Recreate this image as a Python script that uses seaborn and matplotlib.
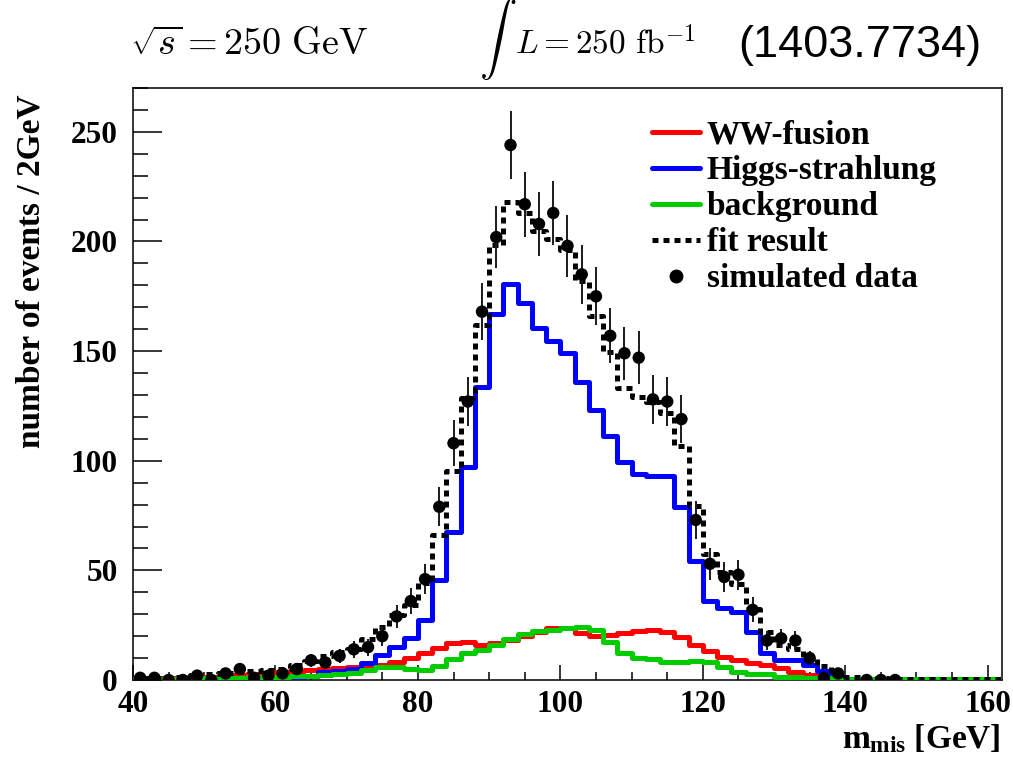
import numpy as np
import pandas as pd
import matplotlib
matplotlib.use("Agg")
import matplotlib.pyplot as plt
import seaborn as sns
from matplotlib.lines import Line2D
from matplotlib.ticker import MultipleLocator

# ---------------- data (2 GeV bins, 40 .. 162 GeV) ----------------
bin_edges = list(range(40, 164, 2))
bin_centers = [e + 1 for e in bin_edges[:-1]]

higgs_strahlung = [0, 0, 0, 0, 0, 0, 0, 0, 0, 0, 0.2, 1.0, 2.0, 3.8, 4.3, 4.8, 7.6, 11.4,
                   15.2, 19.0, 27.4, 45.6, 67.7, 97.3, 133.8, 167.0, 180.5, 172.1, 160.4,
                   154.8, 149.0, 136.0, 123.2, 111.5, 99.5, 94.0, 93.0, 93.0, 79.0, 54.5,
                   36.0, 32.7, 31.0, 22.0, 12.2, 9.1, 9.0, 7.0, 4.0, 1.5, 0.3,
                   0, 0, 0, 0, 0, 0, 0, 0, 0, 0]

ww_fusion = [0.5, 0.5, 0.8, 1.0, 1.3, 1.6, 2.0, 2.5, 2.8, 3.2, 3.5, 4.0, 4.5, 5.0, 5.5,
             6.0, 6.3, 7.0, 8.4, 10.0, 12.2, 14.4, 17.0, 17.5, 16.0, 17.0, 18.2, 20.0,
             22.0, 23.6, 23.6, 21.6, 20.0, 20.5, 21.3, 22.5, 22.8, 22.0, 19.8, 16.0,
             13.3, 10.6, 9.2, 7.6, 6.8, 5.3, 3.8, 2.3, 1.5, 1.0, 0.5, 0.3, 0.2, 0.1, 0.1,
             0, 0, 0, 0, 0, 0]

background = [0.5, 0.5, 0.5, 0.5, 0.8, 1.0, 1.0, 1.0, 1.2, 1.5, 1.5, 1.8, 2.0, 2.3, 2.8,
              3.3, 4.6, 6.0, 6.0, 5.0, 4.5, 6.2, 9.5, 12.2, 13.5, 16.0, 18.6, 21.0, 22.5,
              22.8, 23.6, 24.3, 22.8, 17.5, 12.2, 9.9, 9.5, 8.4, 8.0, 8.8, 8.2, 5.8, 3.8,
              2.7, 2.7, 1.5, 1.2, 1.0, 0.8, 0.6,
              0.5, 0.5, 0.5, 0.5, 0.5, 0.5, 0.5, 0.5, 0.5, 0.5, 0.5]

fit_result = [1.0, 1.0, 1.3, 1.5, 2.1, 2.6, 3.0, 3.5, 4.0, 4.7, 5.2, 6.8, 8.5, 11.1, 12.6,
              14.1, 18.5, 24.4, 29.6, 34.0, 44.1, 66.2, 95.5, 128.5, 162.0, 198.5, 218.0,
              213.1, 204.9, 201.2, 196.2, 181.9, 166.0, 149.5, 133.0, 129.0, 127.0, 122.0,
              106.8, 79.3, 57.5, 49.1, 44.0, 32.3, 21.7, 15.9, 14.0, 10.3, 6.3, 3.1, 1.3,
              0.8, 0.7, 0.6, 0.6, 0.5, 0.5, 0.5, 0.5, 0.5, 0.5]

nan = float("nan")
simulated_data = [1, 1, 0, 0, 2, 0, 3, 5, 1, 2, 3, 5, 9, 8, 11, 14, 15, 20, 29, 36, 46, 79,
                  108, 127, 168, 202, 244, 217, 208, 213, 198, 185, 175, 157, 149, 147, 128,
                  127, 119, 73, 53, 47, 48, 32, 18, 19, 18, 10, 1, 3, nan, 0, 0, 0,
                  nan, nan, nan, nan, nan, nan, nan]

legend_labels = ["WW-fusion", "Higgs-strahlung", "background", "fit result", "simulated data"]

df = pd.DataFrame({"m": bin_centers, "hs": higgs_strahlung, "ww": ww_fusion,
                   "bg": background, "fit": fit_result, "data": simulated_data})

# ---------------- style ----------------
sns.set_theme(style="white")
plt.rcParams["font.family"] = ["Liberation Serif", "DejaVu Serif"]
plt.rcParams["font.weight"] = "bold"
plt.rcParams["text.color"] = "black"
plt.rcParams["xtick.color"] = "black"
plt.rcParams["ytick.color"] = "black"
plt.rcParams["axes.labelcolor"] = "black"
plt.rcParams["mathtext.fontset"] = "custom"
plt.rcParams["mathtext.rm"] = "Liberation Serif:bold"
plt.rcParams["mathtext.it"] = "Liberation Serif:bold"
plt.rcParams["mathtext.bf"] = "Liberation Serif:bold"

RED, BLUE, GREEN = "#ff0000", "#0000ff", "#00cc00"
LW = 3.6

fig = plt.figure(figsize=(10.13, 7.62), dpi=100)
ax = fig.add_axes([0.1313, 0.1076, 0.8578, 0.7769])

for col, color, ls in [("ww", RED, "-"), ("hs", BLUE, "-"), ("bg", GREEN, "-"),
                       ("fit", "black", (0, (1.2, 1.0)))]:
    sns.histplot(data=df, x="m", weights=col, bins=bin_edges, element="step", fill=False,
                 color=color, linewidth=LW, linestyle=ls, ax=ax, zorder=3)

pts = df.dropna(subset=["data"])
ax.errorbar(pts["m"], pts["data"], yerr=np.sqrt(pts["data"]), fmt="none",
            ecolor="#1a1a1a", elinewidth=1.4, capsize=0, zorder=4)
sns.scatterplot(data=pts, x="m", y="data", color="black", s=80, edgecolor="none",
                ax=ax, zorder=5, legend=False)

ax.set_xlim(40, 162)
ax.set_ylim(0, 270)
ax.set_xlabel("")
ax.set_ylabel("")

ax.xaxis.set_major_locator(MultipleLocator(20))
ax.xaxis.set_minor_locator(MultipleLocator(5))
ax.yaxis.set_major_locator(MultipleLocator(50))
ax.yaxis.set_minor_locator(MultipleLocator(10))
ax.tick_params(axis="x", which="major", direction="in", length=10.5, width=1.1,
               labelsize=22.5, pad=7, color="black", labelcolor="black", bottom=True, top=False)
ax.tick_params(axis="x", which="minor", direction="in", length=5.5, width=1.1,
               bottom=True, top=False, color="black")
ax.tick_params(axis="y", which="major", direction="in", length=21, width=1.1,
               labelsize=22.5, pad=11, color="black", labelcolor="black", left=True, right=False)
ax.tick_params(axis="y", which="minor", direction="in", length=10.5, width=1.1,
               left=True, right=False, color="black")
for lab in ax.get_xticklabels() + ax.get_yticklabels():
    lab.set_fontweight("bold")
for sp in ax.spines.values():
    sp.set_visible(True)
    sp.set_color("black")
    sp.set_linewidth(1.1)

ax.text(-0.117, 0.99, "number of events / 2GeV", transform=ax.transAxes, rotation=90,
        ha="center", va="top", fontsize=24, fontweight="bold", color="black")
ax.text(0.998, -0.10, r"$m_{mis}$ [GeV]", transform=ax.transAxes, ha="right",
        va="center", fontsize=24, fontweight="bold", color="black")

handles = [Line2D([], [], color=RED, lw=LW),
           Line2D([], [], color=BLUE, lw=LW),
           Line2D([], [], color=GREEN, lw=LW),
           Line2D([], [], color="black", lw=LW, ls=(0, (1.2, 1.0))),
           Line2D([], [], color="black", marker="o", ls="none", markersize=9)]
leg = ax.legend(handles, legend_labels, loc="upper left", bbox_to_anchor=(0.597, 0.947),
                frameon=False, fontsize=24, handlelength=1.45, handletextpad=0.2,
                labelspacing=0.15, borderpad=0, borderaxespad=0)
for t in leg.get_texts():
    t.set_fontweight("bold")
    t.set_color("black")

# ---------------- header texts ----------------
fig.text(0.128, 0.928, r"$\sqrt{s} = 250\ \mathrm{GeV}$", fontsize=27.5,
         math_fontfamily="cm", ha="left", va="baseline")
fig.text(0.473, 0.893, r"$\int$", fontsize=27, math_fontfamily="cm", ha="left",
         va="bottom")
fig.text(0.508, 0.930, r"$L = 250\ \mathrm{fb}^{-1}$", fontsize=24,
         math_fontfamily="cm", ha="left", va="baseline")
fig.text(0.7285, 0.925, "(1403.7734)", fontsize=32.5, family="Liberation Sans",
         fontweight="normal", ha="left", va="baseline")

fig.savefig("out.png", dpi=100)
